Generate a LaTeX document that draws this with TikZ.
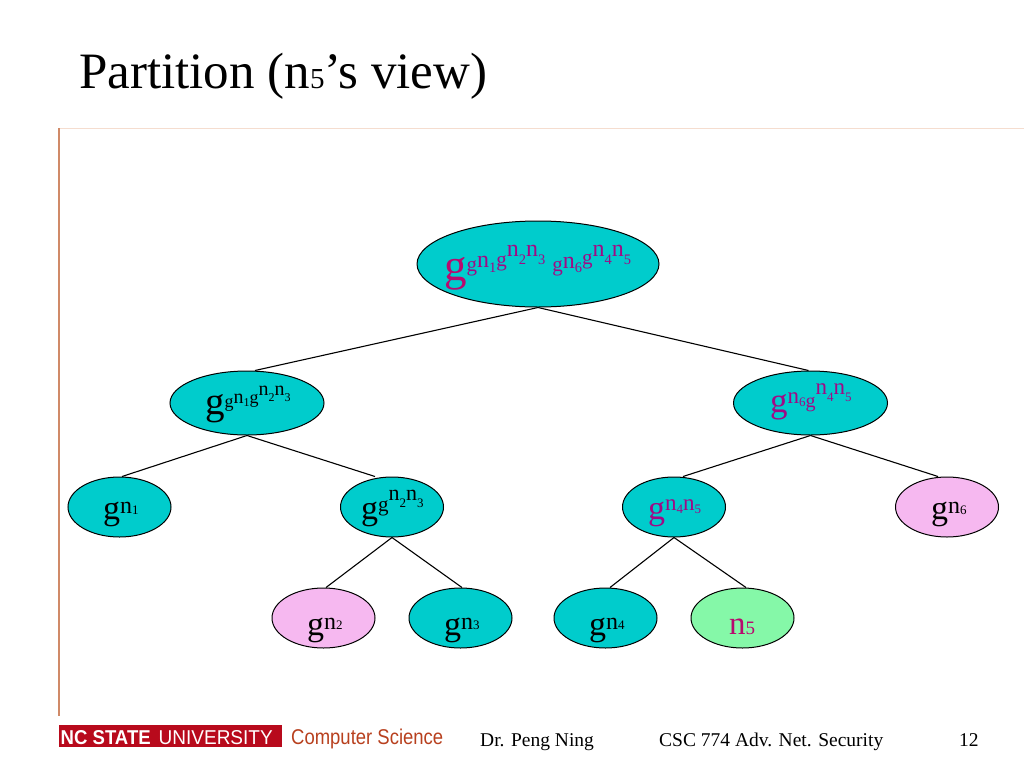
\documentclass[tikz,border=0pt]{standalone}
\usepackage{fontspec}
\usetikzlibrary{shapes.geometric}
\setmainfont{Liberation Serif}
\newfontfamily\logofont{Liberation Sans}
\definecolor{teal1}{HTML}{00CCCC}
\definecolor{pink1}{HTML}{F6B8F0}
\definecolor{green1}{HTML}{85F8A8}
\definecolor{purp}{HTML}{A00A85}
\definecolor{crim}{HTML}{B80A6E}
\definecolor{logored}{HTML}{B80A1C}
\definecolor{csred}{HTML}{B8401E}
\definecolor{ruleV}{HTML}{D08A68}
\definecolor{ruleH}{HTML}{F5DDCF}
% size, raise, text
\newcommand\zz[3]{\raisebox{#2pt}{\fontsize{#1pt}{#1pt}\selectfont #3}}
% n size, digit size, n raise, digit raise, digit
\newcommand\nn[5]{\zz{#1}{#3}{n}\zz{#2}{#4}{#5}}
\tikzset{
  ell/.style={ellipse,draw=black,line width=1pt,inner sep=0pt,minimum width=103pt,minimum height=60pt,fill=teal1},
  big/.style={ell,minimum width=154pt,minimum height=64pt},
  edge1/.style={draw=black,line width=1.1pt},
  lbl/.style={inner sep=0pt,anchor=base west,text=black},
  foot/.style={inner sep=0pt,anchor=base west,font=\fontsize{19.5}{19.5}\selectfont},
}
\begin{document}
\begin{tikzpicture}[x=1pt,y=-1pt]
\useasboundingbox (0,0) rectangle (1024,768);
\fill[white] (0,0) rectangle (1024,768);
% rules
\coordinate (hA) at (59,128); \coordinate (hB) at (1024,128); \coordinate (vB) at (59,716);
\draw[ruleH,line width=1pt] (hA) -- (hB);
\draw[ruleV,line width=1.2pt] (hA) -- (vB);
% title
\node[lbl] (title) at (79,88) {\fontsize{51}{51}\selectfont Partition (n\zz{29}{0}{5}’s view)};
% nodes
\node[ell,minimum width=242pt,minimum height=86pt] (root) at (538,264) {};
\node[big] (a) at (247,403) {};
\node[big] (b) at (810.5,403) {};
\node[ell] (a1) at (119.5,507) {};
\node[ell] (a2) at (392,507) {};
\node[ell] (b1) at (674,507) {};
\node[ell,fill=pink1] (b2) at (947,507) {};
\node[ell,fill=pink1] (c1) at (323.5,618) {};
\node[ell] (c2) at (460.5,618) {};
\node[ell] (c3) at (605.5,618) {};
\node[ell,fill=green1] (c4) at (742.5,618) {};
% edges
\draw[edge1] (root.south) -- ([xshift=8pt]a.north);
\draw[edge1] (root.south) -- ([xshift=-2pt]b.north);
\draw[edge1] (a.south) -- ([xshift=2.5pt]a1.north);
\draw[edge1] (a.south) -- ([xshift=-17pt]a2.north);
\draw[edge1] (b.south) -- ([xshift=9pt]b1.north);
\draw[edge1] (b.south) -- ([xshift=-9pt]b2.north);
\draw[edge1] (a2.south) -- ([xshift=2.5pt]c1.north);
\draw[edge1] (a2.south) -- ([xshift=1.5pt]c2.north);
\draw[edge1] (b1.south) -- ([xshift=4.5pt]c3.north);
\draw[edge1] (b1.south) -- ([xshift=3.5pt]c4.north);
% labels
\node[lbl,text=purp] (rootT) at (444,280) {\textcolor{crim}{\zz{45}{0}{g}}\zz{21}{9}{g}\nn{24}{14.5}{13}{8}{1}\zz{21}{14}{g}\nn{24}{14.5}{24}{16}{2}\nn{24}{14.5}{24}{16}{3}\hspace{7pt}\zz{21}{9}{g}\nn{24}{14.5}{12}{8}{6}\zz{21}{16}{g}\nn{24}{14.5}{24}{16}{4}\nn{24}{14.5}{24}{16}{5}};
\node[lbl] (aT) at (205,414.5) {\zz{39}{0}{g}\zz{18}{7.5}{g}\nn{20}{12}{11}{8}{1}\zz{18}{11}{g}\nn{20}{12}{19.5}{13}{2}\nn{20}{12}{19.5}{13}{3}};
\node[lbl,text=purp] (bT) at (770,412.5) {\zz{35}{0}{g}\nn{23}{13}{9.5}{6}{6}\zz{20}{5}{g}\nn{23}{13}{18}{11}{4}\nn{23}{13}{18}{11}{5}};
\node[lbl] (a1T) at (103,519) {\zz{34}{0}{g}\nn{24}{13}{6}{5}{1}};
\node[lbl] (a2T) at (361,519) {\zz{34}{0}{g}\zz{21}{7.5}{g}\nn{22}{13}{19}{12}{2}\nn{22}{13}{19}{12}{3}};
\node[lbl,text=purp] (b1T) at (648,519) {\zz{34}{0}{g}\nn{23}{13}{9}{6}{4}\nn{23}{13}{9}{6}{5}};
\node[lbl] (b2T) at (931,519) {\zz{34}{0}{g}\nn{24}{13}{6}{5}{6}};
\node[lbl] (c1T) at (307,635) {\zz{34}{0}{g}\nn{24}{13}{6}{6}{2}};
\node[lbl] (c2T) at (444,635) {\zz{34}{0}{g}\nn{24}{13}{6}{6}{3}};
\node[lbl] (c3T) at (589,635) {\zz{34}{0}{g}\nn{24}{13}{6}{6}{4}};
\node[lbl,text=crim] (c4T) at (729,634) {\zz{33}{0}{n}\zz{19}{0}{5}};
% footer
\fill[logored] (59,725) rectangle (282,747);
\node[inner sep=0pt,anchor=base west,text=white] (logo) at (60.5,744) {\logofont\resizebox{90pt}{14pt}{\bfseries NC STATE}\hspace{8pt}\resizebox{114pt}{14pt}{UNIVERSITY}};
\node[inner sep=0pt,anchor=base west,text=csred] (cs) at (291,744.5) {\logofont\resizebox{152pt}{15.5pt}{Computer Science}};
\node[foot] (f1) at (480,746) {Dr. Peng Ning};
\node[foot] (f2) at (659,746) {CSC 774 Adv. Net. Security};
\node[foot] (f3) at (959,746) {12};
\end{tikzpicture}
\end{document}
